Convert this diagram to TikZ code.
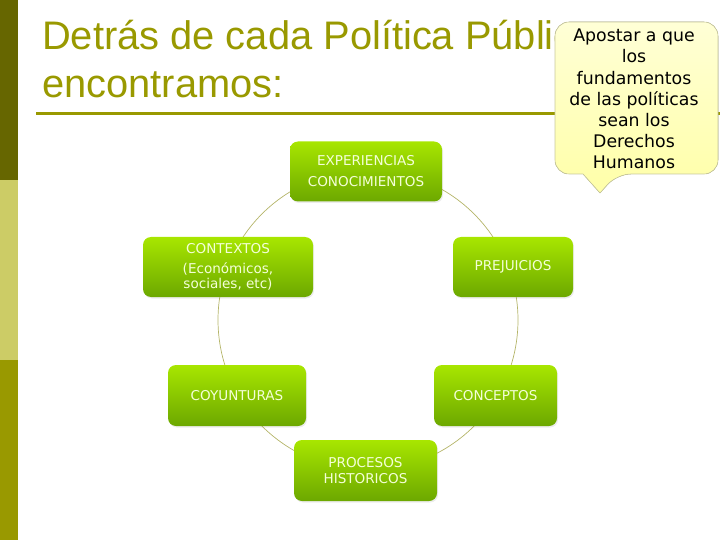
\documentclass[tikz,border=0pt]{standalone}
\usepackage{fontspec}
\setmainfont{Liberation Sans}
\newfontfamily\boxfont{DejaVu Sans}
\usetikzlibrary{backgrounds,shadows}
\definecolor{olivedark}{HTML}{666600}
\definecolor{olivelight}{HTML}{CCCC66}
\definecolor{olivemid}{HTML}{999900}
\definecolor{ringline}{HTML}{B4B468}
\definecolor{leaftop}{HTML}{A8E600}
\definecolor{leafbot}{HTML}{6CA800}
\definecolor{leaftext}{HTML}{F4FFD8}
\definecolor{notetop}{HTML}{FFFFD6}
\definecolor{notebot}{HTML}{FFFFA8}
\definecolor{noteedge}{HTML}{C8C89C}
\tikzset{
    stage/.style={rounded corners=8bp, top color=leaftop, bottom color=leafbot,
        text=leaftext, font=\boxfont\fontsize{13.6}{15.5}\selectfont, align=center,
        inner sep=0pt, drop shadow={opacity=0.15, shadow xshift=1bp, shadow yshift=-1.5bp}},
    heading/.style={anchor=base west, inner sep=0pt, text=olivemid,
        font=\fontsize{40}{48}\selectfont},
}
\begin{document}
\begin{tikzpicture}[x=1bp, y=-1bp]
    \useasboundingbox (0, 0) rectangle (720, 540);
    \fill[olivedark] (0, 0) rectangle (18, 180);
    \fill[olivelight] (0, 180) rectangle (18, 360);
    \fill[olivemid] (0, 360) rectangle (18, 540);
    \node[heading] (title) at (42, 50) {Detrás de cada Política Pública};
    \node[heading] (title2) at (42, 98) {encontramos:};
    \draw[olivemid, line width=3bp] (36, 114) -- (720, 114);
    \coordinate (hub) at (368, 320);
    \node[stage, minimum width=152bp, minimum height=60bp] (exp) at (366, 171.5) {EXPERIENCIAS\\[5.5bp]CONOCIMIENTOS};
    \node[stage, minimum width=170bp, minimum height=60bp] (ctx) at (228, 267) {CONTEXTOS\\[4.5bp](Económicos,\\sociales, etc)};
    \node[stage, minimum width=120bp, minimum height=60bp] (pre) at (513, 267) {PREJUICIOS};
    \node[stage, minimum width=138bp, minimum height=61bp] (coy) at (237, 395.5) {COYUNTURAS};
    \node[stage, minimum width=123bp, minimum height=61bp] (con) at (495.5, 395.5) {CONCEPTOS};
    \node[stage, minimum width=143bp, minimum height=61bp] (pro) at (365.5, 470.5) {PROCESOS\\HISTORICOS};
    \begin{scope}[on background layer]
        \draw[ringline, line width=0.7bp] (hub) circle[radius=150];
    \end{scope}
    \filldraw[draw=noteedge, top color=notetop, bottom color=notebot, line width=0.6bp, rounded corners=14bp]
        (636, 22) -- (718, 22) -- (718, 174) -- (617, 174) [sharp corners] -- (600, 193) -- (583, 174)
        [rounded corners=14bp] -- (555, 174) -- (555, 22) -- cycle;
    \node[font=\boxfont\fontsize{17.4}{21.2}\selectfont, align=center, inner sep=0pt] (note) at (634, 99)
        {Apostar a que\\los\\fundamentos\\de las políticas\\sean los\\Derechos\\Humanos};
\end{tikzpicture}
\end{document}
